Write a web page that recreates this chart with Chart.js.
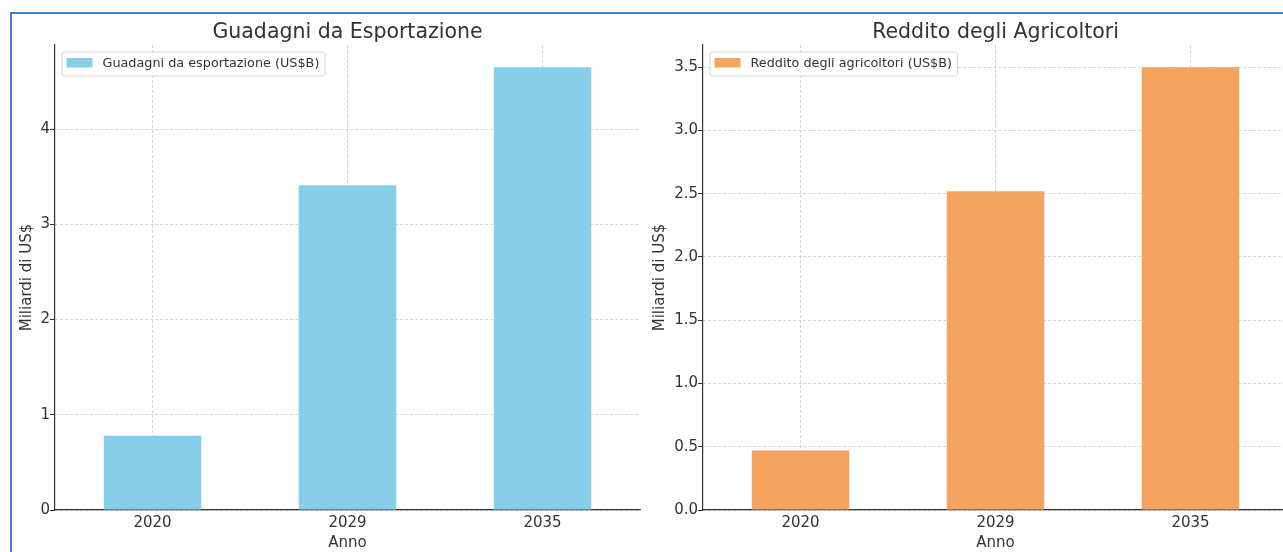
<!DOCTYPE html>
<html>
<head>
<meta charset="utf-8">
<script src="https://cdn.jsdelivr.net/npm/chart.js@4.4.1/dist/chart.umd.min.js"></script>
<style>
    html, body { margin: 0; padding: 0; background: #fff; overflow: hidden; }
    body { width: 1283px; height: 552px; position: relative; }
    canvas { position: absolute; top: 0; }
    #chartLeft { left: 0; }
    #chartRight { left: 645px; }
    .frame {
        position: absolute; left: 10px; top: 12px; width: 1400px; height: 700px;
        border-top: 2px solid #4a7dcf; border-left: 2px solid #4a7dcf;
        pointer-events: none;
    }
</style>
</head>
<body>
<canvas id="chartLeft" width="645" height="552"></canvas>
<canvas id="chartRight" width="650" height="552"></canvas>
<div class="frame"></div>
<script>
// Data
const years = ['2020', '2029', '2035'];
const exportEarnings = [0.78, 3.41, 4.65];
const farmerIncome = [0.47, 2.52, 3.50];

const FONT = "'DejaVu Sans', sans-serif";
const TEXT = '#333';

// Legend drawn inside the plot area, matplotlib style
const insideLegend = {
    id: 'insideLegend',
    afterDraw(chart) {
        const ctx = chart.ctx;
        const area = chart.chartArea;
        const ds = chart.data.datasets[0];
        ctx.save();
        ctx.font = '12.8px ' + FONT;
        const tw = ctx.measureText(ds.label).width;
        const x = area.left + 7, y = area.top + 7;
        const w = tw + 46, h = 24;
        ctx.beginPath();
        ctx.roundRect(x, y, w, h, 2);
        ctx.fillStyle = 'rgba(255,255,255,0.85)';
        ctx.fill();
        ctx.strokeStyle = '#d6d6d6';
        ctx.lineWidth = 1;
        ctx.stroke();
        ctx.fillStyle = ds.backgroundColor;
        ctx.fillRect(x + 4.5, y + 6, 26, 9.5);
        ctx.fillStyle = TEXT;
        ctx.textBaseline = 'middle';
        ctx.fillText(ds.label, x + 40.5, y + 11.5);
        ctx.restore();
    }
};

function makeChart(id, title, label, values, color, opts) {
    const yMax = Math.max(...values) * 1.05;
    return new Chart(document.getElementById(id), {
        type: 'bar',
        data: {
            labels: years,
            datasets: [{
                label: label,
                data: values,
                backgroundColor: color,
                categoryPercentage: 1.0,
                barPercentage: 0.5
            }]
        },
        plugins: [insideLegend],
        options: {
            responsive: false,
            animation: false,
            layout: { padding: { left: 0, right: opts.padRight, top: 0, bottom: 0 } },
            plugins: {
                legend: { display: false },
                tooltip: { enabled: false },
                title: {
                    display: true,
                    fullSize: false,
                    text: title,
                    color: TEXT,
                    font: { family: FONT, size: 20.5, weight: 'normal', lineHeight: 1.2 },
                    padding: { top: 20.4, bottom: 0 }
                }
            },
            scales: {
                x: {
                    z: 1,
                    grid: { offset: false, color: 'rgba(185,185,185,0.75)', lineWidth: 0.8, drawTicks: false },
                    border: { display: true, color: '#333', width: 1.2, dash: [3, 2] },
                    ticks: { color: TEXT, font: { family: FONT, size: 15 }, padding: 4 },
                    title: {
                        display: true, text: 'Anno', color: TEXT,
                        font: { family: FONT, size: 15, lineHeight: 1.2 },
                        padding: { top: 0, bottom: 0 }
                    },
                    afterFit: s => { s.height = 42; }
                },
                y: {
                    z: 1,
                    min: 0,
                    max: yMax,
                    grid: {
                        color: 'rgba(185,185,185,0.75)', lineWidth: 0.8,
                        tickLength: 5, tickColor: '#333', tickWidth: 1, tickBorderDash: []
                    },
                    border: { display: true, color: '#333', width: 1.2, dash: [3, 2] },
                    ticks: {
                        stepSize: opts.step,
                        includeBounds: false,
                        color: TEXT,
                        font: { family: FONT, size: 15 },
                        padding: 0,
                        callback: v => v.toFixed(opts.decimals)
                    },
                    title: {
                        display: true, text: 'Miliardi di US$', color: TEXT,
                        font: { family: FONT, size: 15, lineHeight: 1.2 },
                        padding: { top: opts.titlePad, bottom: 0 }
                    },
                    afterFit: s => { s.width = opts.axisWidth; }
                }
            }
        }
    });
}

makeChart('chartLeft', 'Guadagni da Esportazione', 'Guadagni da esportazione (US$B)',
    exportEarnings, '#87ceeb', { padRight: 5, axisWidth: 55, step: 1, decimals: 0, titlePad: 18.5 });
makeChart('chartRight', 'Reddito degli Agricoltori', 'Reddito degli agricoltori (US$B)',
    farmerIncome, '#f4a460', { padRight: 7, axisWidth: 58, step: 0.5, decimals: 1, titlePad: 6.5 });
</script>
</body>
</html>
